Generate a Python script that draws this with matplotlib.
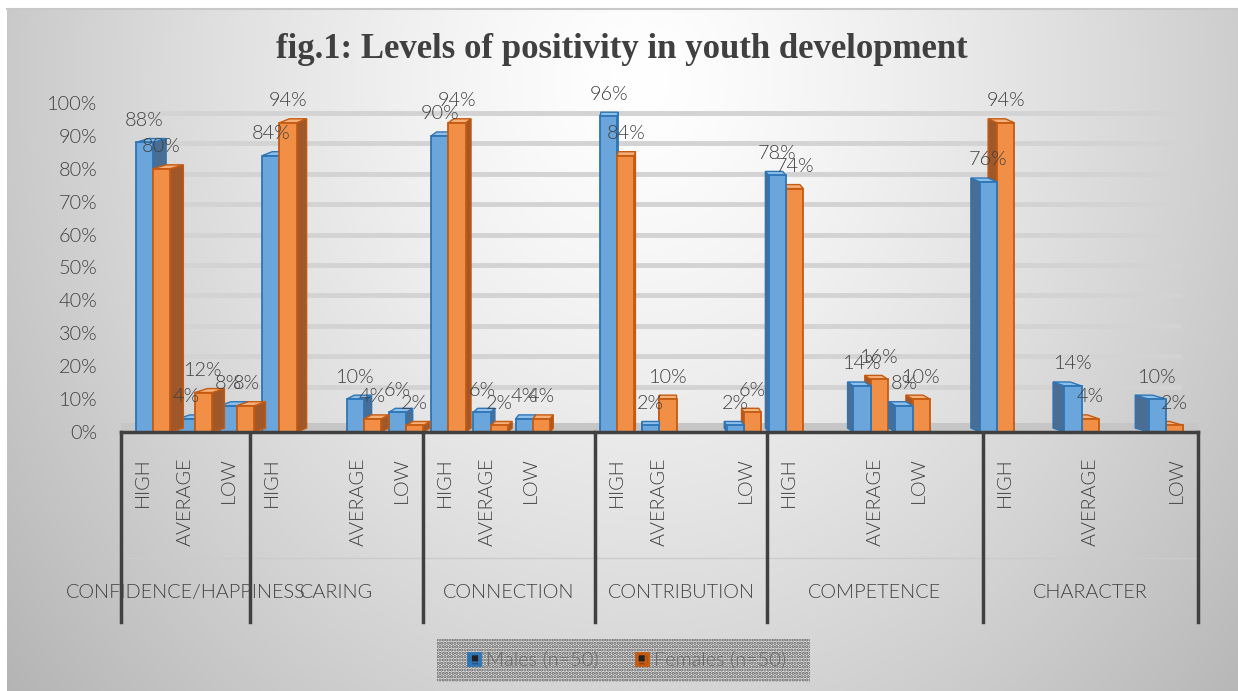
import numpy as np
import matplotlib
matplotlib.use("Agg")
import matplotlib.pyplot as plt
from matplotlib.patches import Polygon, Patch, Rectangle
from matplotlib import transforms

plt.rcParams['font.family'] = ['Lato', 'DejaVu Sans']
plt.rcParams['font.weight'] = 300
plt.rcParams['hatch.linewidth'] = 1.6

# ---- data ----
groups = ['CONFIDENCE/HAPPINESS', 'CARING', 'CONNECTION', 'CONTRIBUTION', 'COMPETENCE', 'CHARACTER']
# sub-category slots per group, '' = empty slot in the original sheet
group_slots = [
    ['HIGH', 'AVERAGE', 'LOW'],
    ['HIGH', '', 'AVERAGE', 'LOW'],
    ['HIGH', 'AVERAGE', 'LOW', ''],
    ['HIGH', 'AVERAGE', '', 'LOW'],
    ['HIGH', '', 'AVERAGE', 'LOW', ''],
    ['HIGH', '', 'AVERAGE', '', 'LOW'],
]
# HIGH, AVERAGE, LOW
males = [[88, 4, 8], [84, 10, 6], [90, 6, 4], [96, 2, 2], [78, 14, 8], [76, 14, 10]]
females = [[80, 12, 8], [94, 4, 2], [94, 2, 4], [84, 10, 6], [74, 16, 10], [94, 4, 2]]
series_names = ['Males (n=50)', 'Females (n=50)']
y_ticks = list(range(0, 101, 10))

W, H = 1238, 691
TXT = '#404040'
FS = 14.3

# flatten into slots
slot_labels, m_vals, f_vals, bounds = [], [], [], [0]
for g, slots in enumerate(group_slots):
    k = 0
    for s in slots:
        slot_labels.append(s)
        if s:
            m_vals.append(males[g][k])
            f_vals.append(females[g][k])
            k += 1
        else:
            m_vals.append(None)
            f_vals.append(None)
    bounds.append(bounds[-1] + len(slots))
n_slots = len(slot_labels)

fig = plt.figure(figsize=(W / 100, H / 100), dpi=100)

# background gradient
bg = fig.add_axes([0, 0, 1, 1], zorder=-10)
yy, xx = np.mgrid[0:H, 0:W]
r = np.sqrt(((xx - 640) / 650.0) ** 2 + ((yy - 80) / 750.0) ** 2)
val = 255 - 55 * np.clip(r, 0, 1.3) ** 1.3
val[(yy < 9) | (xx < 7)] = 255
img = np.dstack([val, val, val]) / 255.0
bg.imshow(np.clip(img, 0, 1), extent=(0, W, H, 0), aspect='auto', interpolation='bilinear')
bg.plot([7, W], [9, 9], color='#c8c8c8', lw=1.5)
# hatched legend box
bg.add_patch(Rectangle((437, 639), 373, 43, fc='#e4e4e4', ec='#5a5a5a', hatch='.....', lw=0))
bg.set_xlim(0, W)
bg.set_ylim(H, 0)
bg.axis('off')

ax = fig.add_axes([121 / W, 1 - 432 / H, (1198 - 121) / W, 329 / H])
ax.patch.set_alpha(0)
ax.set_xlim(0, n_slots)
ax.set_ylim(0, 100)
for sp in ax.spines.values():
    sp.set_visible(False)

# back wall gridlines + floor
for v in y_ticks[1:]:
    gy = 4.56 + 0.924 * v
    ax.plot([0.5, n_slots - 0.4], [gy, gy], color='#d3d3d3', lw=3.5, zorder=0, solid_capstyle='butt')
ax.fill_between([0, n_slots], 0, 2.7, color='#c6c6c6', zorder=0.5, lw=0)

# pseudo 3D columns
vp = 12.4
dy = 1.2
colors = {
    0: dict(face='#6aa6dc', edge='#2e75b6', side='#4a6d94', top='#8fc0ea'),
    1: dict(face='#f08f45', edge='#c55a11', side='#a0582a', top='#f6b07a'),
}
for i in range(n_slots):
    if m_vals[i] is None:
        continue
    xc = i + 0.5
    shift = -0.02 * (xc - vp)
    sw = 0.026 * (vp - xc)
    for s, vals in enumerate([m_vals, f_vals]):
        h = vals[i]
        cx = xc + shift + (-0.2 if s == 0 else 0.2)
        xl, xr = cx - 0.2, cx + 0.2
        c = colors[s]
        if xc < vp:
            z = 2 + s
            xe = xr
        else:
            z = 3 - s
            xe = xl
        ax.add_patch(Polygon([(xe, 0), (xe, h), (xe + sw, h + dy), (xe + sw, dy)],
                             closed=True, fc=c['side'], ec=c['edge'], lw=1, zorder=z))
        ax.add_patch(Polygon([(xl, h), (xr, h), (xr + sw, h + dy), (xl + sw, h + dy)],
                             closed=True, fc=c['top'], ec=c['edge'], lw=1, zorder=z))
        ax.bar(cx, h, width=0.4, color=c['face'], edgecolor=c['edge'], lw=1.3, zorder=z + 0.1)
        ax.text(cx, h + 6.7, f'{h}%', ha='center', va='center', fontsize=FS, color=TXT, zorder=10)

# axis line and group separators
ax.plot([0, n_slots], [0, 0], color=TXT, lw=2.5, zorder=5, clip_on=False)
tr = transforms.blended_transform_factory(ax.transData, ax.transAxes)
for b in bounds:
    ax.plot([b, b], [0, -0.5775], color=TXT, lw=2.5, transform=tr, clip_on=False)
ax.plot([0, n_slots], [-0.383, -0.383], color='#cbcbcb', lw=1, transform=tr, clip_on=False, zorder=0)
for g, name in enumerate(groups):
    ax.text((bounds[g] + bounds[g + 1]) / 2, -0.489, name, transform=tr, ha='center', va='center',
            fontsize=FS, color=TXT)

ax.set_xticks([i + 0.5 for i in range(n_slots)])
ax.set_xticklabels(slot_labels, rotation=90, fontsize=FS, color=TXT)
ax.tick_params(axis='x', length=0, pad=18)
ax.set_yticks(y_ticks)
ax.set_yticklabels([f'{v}%' for v in y_ticks], fontsize=FS, color=TXT)
ax.tick_params(axis='y', length=0, pad=17)

fig.text(622 / W, 1 - 49 / H, 'fig.1: Levels of positivity in youth development', ha='center', va='center',
         family='Liberation Serif', fontweight='bold', fontsize=25, color=TXT)

handles = [Patch(facecolor='#222222', edgecolor=colors[0]['edge'], hatch='++', lw=2),
           Patch(facecolor='#222222', edgecolor=colors[1]['edge'], hatch='++', lw=2)]
leg = fig.legend(handles, series_names, loc='center', bbox_to_anchor=(627 / W, 1 - 660 / H), ncol=2,
                 fontsize=FS, frameon=False, handlelength=0.6, handleheight=0.6,
                 handletextpad=0.3, columnspacing=1.9, labelcolor='#6a6a6a')

fig.savefig('out.png', dpi=100)
